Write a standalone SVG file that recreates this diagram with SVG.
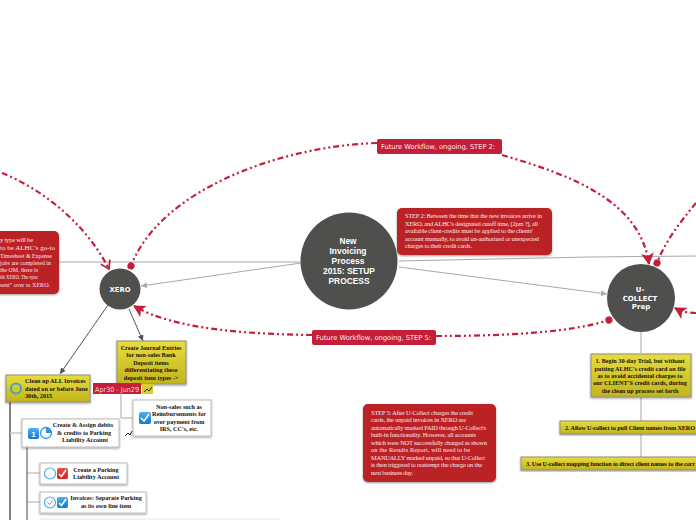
<svg xmlns="http://www.w3.org/2000/svg" width="696" height="520" viewBox="0 0 696 520">
<defs>
<linearGradient id="yg" x1="0" y1="0" x2="0" y2="1"><stop offset="0" stop-color="#e8dc3c"/><stop offset="1" stop-color="#c2b41e"/></linearGradient>
<linearGradient id="bl" x1="0" y1="0" x2="0" y2="1"><stop offset="0" stop-color="#4ab4f0"/><stop offset="1" stop-color="#0f78d2"/></linearGradient>
<linearGradient id="rd" x1="0" y1="0" x2="0" y2="1"><stop offset="0" stop-color="#f0504a"/><stop offset="1" stop-color="#d21e24"/></linearGradient>
<filter id="sh" x="-10%" y="-10%" width="120%" height="125%"><feDropShadow dx="0" dy="1" stdDeviation="0.8" flood-color="#000" flood-opacity="0.4"/></filter>
<marker id="ah" markerUnits="userSpaceOnUse" markerWidth="8" markerHeight="8" refX="6" refY="3" orient="auto"><path d="M0 0L6 3L0 6z" fill="#555"/></marker>
<marker id="ahg" markerUnits="userSpaceOnUse" markerWidth="8" markerHeight="8" refX="6" refY="3" orient="auto"><path d="M0 0L6 3L0 6z" fill="#aaa"/></marker>
<marker id="ar" markerUnits="userSpaceOnUse" markerWidth="16" markerHeight="16" refX="11" refY="6.500" orient="auto"><path d="M0 0L12 6.500L0 13L3 6.500z" fill="#c41e3a"/></marker>
<marker id="aro" markerUnits="userSpaceOnUse" markerWidth="16" markerHeight="16" refX="9" refY="6" orient="auto"><path d="M1 1L9 6L1 11" fill="none" stroke="#c41e3a" stroke-width="1.800"/></marker>
<marker id="dot" markerUnits="userSpaceOnUse" markerWidth="10" markerHeight="10" refX="5" refY="5" orient="auto"><circle cx="5" cy="5" r="3.600" fill="#c41e3a"/></marker>
</defs>
<style>
.hub{fill:#4f4f4d}
.hubt{font-family:"Liberation Sans",Arial,sans-serif;font-weight:700;fill:#fff;text-anchor:middle}
.dj{font-family:"DejaVu Sans",sans-serif;font-weight:700;fill:#fff;text-anchor:middle}
.note{fill:#bb2026;filter:url(#sh)}
.nt{font-family:"Liberation Serif",serif;font-size:6.4px;fill:#fbe4e4}
.lab{fill:#c41e3a}
.lt{font-family:"DejaVu Sans",sans-serif;font-size:6.8px;fill:#fbe9e9}
.y{fill:url(#yg);stroke:#8f8f80;stroke-width:1;filter:url(#sh)}
.w{fill:#fff;stroke:#bcbcbc;stroke-width:1;filter:url(#sh)}
.t{font-family:"Liberation Serif",serif;font-size:6.2px;font-weight:700;fill:#111;text-anchor:middle}
.gl{fill:none;stroke:#a8a8a8;stroke-width:1}
.tree{fill:none;stroke:#c8c8c8;stroke-width:1.600}
.dk{fill:none;stroke:#555;stroke-width:1}
.dash{fill:none;stroke:#c41e3a;stroke-width:2.200;stroke-dasharray:6 3 2 3 2 3}
.ck{fill:none;stroke:#fff;stroke-width:1.500}
</style>
<g id="connectors">
<path class="gl" d="M0 262H300"/>
<path class="gl" d="M399 261L590 257L696 256" stroke-width="1.200"/>
<path class="gl" d="M301 263L141 286" marker-end="url(#ahg)"/>
<path class="gl" d="M399 267L607 294" marker-end="url(#ahg)"/>
<path class="dk" d="M108 305L60 374" marker-end="url(#ah)"/>
<path class="dk" d="M129 309L143 341" marker-end="url(#ah)"/>
<path class="tree" d="M641 319V353M641 397V421M641 434V457"/>
<path class="gl" d="M121 394V418H133"/>
<path d="M10 402V520" fill="none" stroke="#666" stroke-width="1.600"/>
<path class="tree" d="M10 433H22M27 473H40M27 502H40"/>
<path d="M27 447V520" fill="none" stroke="#666" stroke-width="1.200"/>
<path d="M40 519H280" fill="none" stroke="#e2e2e2" stroke-width="1"/>
<path class="dash" d="M2 173C40 188 85 222 109 269" marker-end="url(#aro)"/>
<path class="dash" d="M377 143C280 146 160 190 131 266" marker-end="url(#dot)"/>
<path class="dash" d="M502 155C570 175 640 200 649 264" marker-end="url(#ar)"/>
<path class="dash" d="M696 203C680 222 665 242 657 263" marker-end="url(#dot)"/>
<path class="dash" d="M312 335C250 334 175 330 134 306" marker-end="url(#ar)"/>
<path class="dash" d="M436 336C500 336 570 333 609 320" marker-end="url(#dot)"/>
<path class="dash" d="M696 313C690 313 682 312 675 308" marker-end="url(#ar)"/>
</g>
<g id="center"><circle class="hub" cx="349" cy="261" r="48.500"/>
<text class="hubt" font-size="9.500"><tspan x="348" y="244" textLength="17" lengthAdjust="spacingAndGlyphs">New</tspan><tspan x="348" y="254" textLength="37" lengthAdjust="spacingAndGlyphs">Invoicing</tspan><tspan x="348" y="264" textLength="33" lengthAdjust="spacingAndGlyphs">Process</tspan><tspan x="349" y="274" textLength="52" lengthAdjust="spacingAndGlyphs">2015: SETUP</tspan><tspan x="349" y="284" textLength="41" lengthAdjust="spacingAndGlyphs">PROCESS</tspan></text></g>
<g id="xero"><circle class="hub" cx="120" cy="289" r="20.500"/><text class="dj" font-size="6.800" x="120" y="292">XERO</text></g>
<g id="ucollect"><circle class="hub" cx="641" cy="298" r="34"/><text class="dj" font-size="7"><tspan x="640" y="292">U-</tspan><tspan x="640" y="301">COLLECT</tspan><tspan x="641" y="309">Prep</tspan></text></g>
<g id="note-left"><rect class="note" x="-12" y="231" width="71" height="63" rx="5"/>
<text class="nt"><tspan x="0" y="242" textLength="33">y type will be</tspan><tspan x="0" y="250" textLength="55" lengthAdjust="spacingAndGlyphs">to be ALHC's go-to</tspan><tspan x="0" y="258" textLength="52" lengthAdjust="spacingAndGlyphs">Timesheet &amp; Expense</tspan><tspan x="0" y="265" textLength="51" lengthAdjust="spacingAndGlyphs">jobs are completed in</tspan><tspan x="0" y="272" textLength="38" lengthAdjust="spacingAndGlyphs">the OM, there is</tspan><tspan x="0" y="279" textLength="38" lengthAdjust="spacingAndGlyphs">ith XERO. The sync</tspan><tspan x="0" y="287" textLength="50" lengthAdjust="spacingAndGlyphs">sent" over to XERO.</tspan></text></g>
<g id="note-step2"><rect class="note" x="397" y="208" width="155" height="47" rx="5"/>
<text class="nt"><tspan x="405" y="218" textLength="137">STEP 2: Between the time that the new invoices arrive in</tspan><tspan x="405" y="226" textLength="133">XERO, and ALHC's designated cutoff time, [2pm ?], all</tspan><tspan x="405" y="233" textLength="128">available client-credits  must be applied to the clients'</tspan><tspan x="405" y="241" textLength="134">account manually, to avoid un-authorized or unexpected</tspan><tspan x="405" y="248" textLength="67">charges to their credit cards.</tspan></text></g>
<g id="note-step5"><rect class="note" x="363" y="404" width="133" height="78" rx="5"/>
<text class="nt"><tspan x="371" y="415" textLength="102">STEP 5: After U-Collect charges the credit</tspan><tspan x="371" y="422" textLength="95">cards, the unpaid invoices in XERO are</tspan><tspan x="371" y="430" textLength="115">automatically marked PAID through U-Collect's</tspan><tspan x="371" y="437" textLength="105">built-in functionality. However, all accounts</tspan><tspan x="371" y="445" textLength="116">which were NOT successfully charged as shown</tspan><tspan x="371" y="452" textLength="99">on the Results Report, will need to be</tspan><tspan x="371" y="460" textLength="114">MANUALLY marked unpaid, so that U-Collect</tspan><tspan x="371" y="467" textLength="111">is then triggered to reattempt the charge on the</tspan><tspan x="371" y="475" textLength="42">next business day.</tspan></text></g>
<g id="label-step2"><rect class="lab" x="377" y="139" width="125" height="15" rx="2"/><text class="lt" x="381" y="149" textLength="114">Future Workflow, ongoing, STEP 2:</text></g>
<g id="label-step5"><rect class="lab" x="312" y="330" width="124" height="15" rx="2"/><text class="lt" x="316" y="340" textLength="115">Future Workflow, ongoing, STEP 5:</text></g>
<g id="journal"><rect class="y" x="117" y="341" width="69" height="43"/>
<text class="t"><tspan x="151" y="350">Create Journal Entries</tspan><tspan x="151" y="357">for non-sales Bank</tspan><tspan x="151" y="365">Deposit items</tspan><tspan x="151" y="372">differentiating these</tspan><tspan x="151" y="380">deposit item types -&gt;</tspan></text></g>
<g id="cleanup"><rect class="y" x="6" y="375" width="84" height="27"/>
<circle cx="16" cy="388.500" r="5" fill="none" stroke="#4aa0c0" stroke-width="2"/>
<text class="t" style="text-anchor:start"><tspan x="25" y="383">Clean up ALL  Invoices</tspan><tspan x="25" y="391">dated on or before June</tspan><tspan x="25" y="398">30th, 2015</tspan></text></g>
<g id="date"><rect x="93" y="383" width="48" height="11" fill="#c41e3a"/><text x="95" y="391.500" font-family="'DejaVu Sans',sans-serif" font-size="7" fill="#f4d8dc" textLength="44" lengthAdjust="spacingAndGlyphs">Apr30 - Jun29</text>
<rect x="142" y="384" width="11" height="10" fill="#d8cc30"/><path d="M144 392L147 389L149 391L152 387" fill="none" stroke="#222" stroke-width="1"/></g>
<g id="nonsales"><rect class="w" x="133" y="400" width="78" height="36"/>
<rect x="139" y="412" width="12" height="12" rx="2" fill="url(#bl)"/><path class="ck" d="M141 418L144 421L149 414"/>
<text class="t"><tspan x="179" y="409">Non-sales such as</tspan><tspan x="179" y="416">Reimbursements for</tspan><tspan x="179" y="424">over payment  from</tspan><tspan x="179" y="431">IRS, CC's, etc.</tspan></text></g>
<g id="debits"><rect class="w" x="22" y="419" width="97" height="28"/>
<rect x="28" y="428" width="11" height="11" rx="2" fill="url(#bl)"/><text x="33.500" y="437" font-family="'Liberation Sans',sans-serif" font-size="8" font-weight="700" fill="#fff" text-anchor="middle">1</text>
<circle cx="46" cy="433" r="5.500" fill="#fff" stroke="#2a96e0" stroke-width="1.300"/><path d="M46 433V427.500A5.500 5.500 0 0 1 51.500 433z" fill="#2a96e0"/>
<text class="t"><tspan x="83" y="427">Create &amp; Assign debits</tspan><tspan x="84" y="435">&amp; credits to Parking</tspan><tspan x="85" y="442">Liability Account</tspan></text>
<path d="M125 436L128 433L130 435L132 431" fill="none" stroke="#222" stroke-width="1"/></g>
<g id="parking"><rect class="w" x="40" y="463" width="87" height="21"/>
<circle cx="50" cy="473.500" r="5.500" fill="#fff" stroke="#4aa8ec" stroke-width="1.200"/><rect x="57" y="468" width="11" height="11" rx="2" fill="url(#rd)"/><path class="ck" d="M59 474L61.500 476.500L66 470"/>
<text class="t"><tspan x="96" y="472">Create a Parking</tspan><tspan x="96" y="479">Liability Account</tspan></text></g>
<g id="invoices"><rect class="w" x="40" y="492" width="106" height="21"/>
<circle cx="50" cy="502.500" r="5.500" fill="#fff" stroke="#4aa8ec" stroke-width="1.200"/><path d="M47.500 502.500L49.500 504.500L53 500.500" fill="none" stroke="#2a96e0" stroke-width="1"/><rect x="57" y="497" width="11" height="11" rx="2" fill="url(#bl)"/><path class="ck" d="M59 503L61.500 505.500L66 499"/>
<text class="t"><tspan x="106" y="500">Invoices: Separate Parking</tspan><tspan x="106" y="508">as its own line item</tspan></text></g>
<g id="trial"><rect class="y" x="591" y="354" width="100" height="43"/>
<text class="t"><tspan x="640" y="363">1. Begin 30-day Trial, but without</tspan><tspan x="640" y="371">putting ALHC's credit card on file</tspan><tspan x="640" y="378">as to avoid accidental charges to</tspan><tspan x="640" y="385">our CLIENT'S credit cards, during</tspan><tspan x="640" y="393">the clean up process set forth</tspan></text></g>
<g id="pull"><rect class="y" x="560" y="421" width="140" height="13"/><text class="t" x="565" y="429.500" style="text-anchor:start" textLength="130">2. Allow U-collect to pull Client names from XERO</text></g>
<g id="mapping"><rect class="y" x="521" y="457" width="190" height="13"/><text class="t" x="526" y="465.500" style="text-anchor:start" textLength="169">3. Use U-collect mapping function to direct client names to the corr</text></g>
</svg>
